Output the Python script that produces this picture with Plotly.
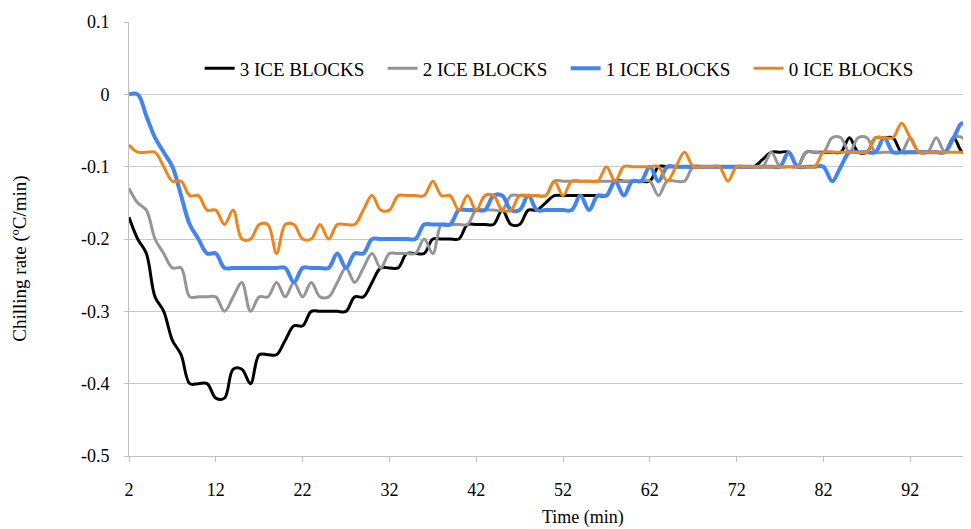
import plotly.graph_objects as go

minutes = list(range(2, 101))

ice3 = [-0.17, -0.20, -0.22, -0.28, -0.30, -0.34, -0.36, -0.40, -0.40, -0.40,
        -0.42, -0.42, -0.38, -0.38, -0.40, -0.36, -0.36, -0.36, -0.34, -0.32,
        -0.32, -0.30, -0.30, -0.30, -0.30, -0.30, -0.28, -0.28, -0.26, -0.24,
        -0.24, -0.24, -0.22, -0.22, -0.22, -0.20, -0.20, -0.20, -0.20, -0.18,
        -0.18, -0.18, -0.18, -0.16, -0.18, -0.18, -0.16, -0.16, -0.15, -0.14,
        -0.14, -0.14, -0.14, -0.14, -0.14, -0.14, -0.12, -0.12, -0.12, -0.12,
        -0.12, -0.10, -0.10, -0.10, -0.10, -0.10, -0.10, -0.10, -0.10, -0.10,
        -0.10, -0.10, -0.10, -0.09, -0.08, -0.08, -0.08, -0.10, -0.08, -0.08,
        -0.08, -0.08, -0.08, -0.06, -0.08, -0.08, -0.06, -0.06, -0.06, -0.08,
        -0.08, -0.08, -0.08, -0.08, -0.08, -0.06, -0.08, -0.08, -0.06]

ice2 = [-0.13, -0.15, -0.16, -0.20, -0.22, -0.24, -0.24, -0.28, -0.28, -0.28,
        -0.28, -0.30, -0.28, -0.26, -0.30, -0.28, -0.28, -0.26, -0.28, -0.26,
        -0.28, -0.26, -0.28, -0.28, -0.26, -0.24, -0.26, -0.24, -0.22, -0.24,
        -0.22, -0.22, -0.22, -0.22, -0.20, -0.22, -0.18, -0.18, -0.18, -0.18,
        -0.16, -0.16, -0.16, -0.16, -0.14, -0.14, -0.14, -0.14, -0.14, -0.12,
        -0.12, -0.12, -0.12, -0.12, -0.12, -0.12, -0.12, -0.12, -0.12, -0.12,
        -0.12, -0.14, -0.12, -0.12, -0.12, -0.10, -0.10, -0.10, -0.10, -0.10,
        -0.10, -0.10, -0.10, -0.10, -0.08, -0.10, -0.10, -0.10, -0.08, -0.08,
        -0.08, -0.06, -0.06, -0.08, -0.06, -0.06, -0.08, -0.08, -0.08, -0.08,
        -0.06, -0.08, -0.08, -0.06, -0.08, -0.06, -0.06, -0.08, -0.08]

ice1 = [0.00, 0.00, -0.03, -0.06, -0.08, -0.10, -0.14, -0.18, -0.20, -0.22,
        -0.22, -0.24, -0.24, -0.24, -0.24, -0.24, -0.24, -0.24, -0.24, -0.26,
        -0.24, -0.24, -0.24, -0.24, -0.22, -0.24, -0.22, -0.22, -0.20, -0.20,
        -0.20, -0.20, -0.20, -0.20, -0.18, -0.18, -0.18, -0.18, -0.16, -0.16,
        -0.16, -0.16, -0.14, -0.14, -0.16, -0.16, -0.14, -0.16, -0.16, -0.16,
        -0.16, -0.16, -0.14, -0.16, -0.14, -0.14, -0.12, -0.14, -0.12, -0.12,
        -0.10, -0.12, -0.10, -0.10, -0.10, -0.10, -0.10, -0.10, -0.10, -0.10,
        -0.10, -0.10, -0.10, -0.10, -0.10, -0.10, -0.08, -0.10, -0.10, -0.10,
        -0.10, -0.12, -0.10, -0.08, -0.08, -0.08, -0.08, -0.06, -0.08, -0.08,
        -0.08, -0.08, -0.08, -0.08, -0.08, -0.06, -0.04, -0.06, -0.08]

ice0 = [-0.07, -0.08, -0.08, -0.08, -0.10, -0.12, -0.12, -0.14, -0.14, -0.16,
        -0.16, -0.18, -0.16, -0.20, -0.20, -0.18, -0.18, -0.22, -0.18, -0.18,
        -0.20, -0.20, -0.18, -0.20, -0.18, -0.18, -0.18, -0.16, -0.14, -0.16,
        -0.16, -0.14, -0.14, -0.14, -0.14, -0.12, -0.14, -0.14, -0.16, -0.14,
        -0.16, -0.14, -0.14, -0.16, -0.16, -0.14, -0.14, -0.14, -0.14, -0.12,
        -0.14, -0.12, -0.12, -0.12, -0.12, -0.10, -0.12, -0.10, -0.10, -0.10,
        -0.10, -0.10, -0.12, -0.10, -0.08, -0.10, -0.10, -0.10, -0.10, -0.12,
        -0.10, -0.10, -0.10, -0.10, -0.10, -0.10, -0.10, -0.10, -0.10, -0.10,
        -0.08, -0.08, -0.08, -0.08, -0.08, -0.08, -0.06, -0.06, -0.06, -0.04,
        -0.06, -0.08, -0.08, -0.08, -0.08, -0.08, -0.08, -0.08, -0.08]

series_names = ["3 ICE BLOCKS", "2 ICE BLOCKS", "1 ICE BLOCKS", "0 ICE BLOCKS"]
series_values = [ice3, ice2, ice1, ice0]
series_colors = ["#000000", "#959595", "#4384ee", "#f0841c"]
series_widths = [3, 3, 4, 3]

x_tick_vals = [2, 12, 22, 32, 42, 52, 62, 72, 82, 92]
y_tick_vals = [0.1, 0.0, -0.1, -0.2, -0.3, -0.4, -0.5]
y_tick_text = ["0.1", "0", "-0.1", "-0.2", "-0.3", "-0.4", "-0.5"]

FONT = "Liberation Serif, Times New Roman, serif"

# page body has an 8px margin; figure pixel geometry below is in figure coords
W, H = 963, 521
L, R, T, B = 121.4, 0, 13.6, 73
PW, PH = W - L - R, H - T - B


def px(xf):
    return (xf - L) / PW


def py(yf):
    return (H - B - yf) / PH


fig = go.Figure()
for name, vals, col, w in zip(series_names, series_values, series_colors, series_widths):
    fig.add_trace(go.Scatter(
        x=minutes, y=vals, name=name, mode="lines",
        line=dict(color=col, width=w, shape="spline", smoothing=1.0),
    ))

fig.update_layout(
    width=W, height=H,
    margin=dict(l=L, r=R, t=T, b=B, autoexpand=False),
    paper_bgcolor="white", plot_bgcolor="white",
    font=dict(family=FONT, size=18, color="#000000"),
    showlegend=True,
    legend=dict(
        orientation="h", x=px(192), xanchor="left", y=py(60), yanchor="middle",
        font=dict(family=FONT, size=19, color="#000000"),
        bgcolor="rgba(0,0,0,0)", entrywidth=138, entrywidthmode="pixels",
        tracegroupgap=0,
    ),
    xaxis=dict(
        range=[2, 99], tickmode="array", tickvals=x_tick_vals,
        showgrid=False, zeroline=False,
        showline=True, linecolor="#bfbfbf", linewidth=1,
        ticks="outside", ticklen=5, tickcolor="#bfbfbf",
        ticklabelstandoff=12,
        tickfont=dict(family=FONT, size=18),
    ),
    yaxis=dict(
        range=[-0.5, 0.1], tickmode="array", tickvals=y_tick_vals, ticktext=y_tick_text,
        showgrid=True, gridcolor="#c8c8c8", gridwidth=1, zeroline=False,
        showline=True, linecolor="#bfbfbf", linewidth=1,
        ticks="outside", ticklen=4, tickcolor="#bfbfbf",
        ticklabelstandoff=11,
        tickfont=dict(family=FONT, size=18),
    ),
    annotations=[
        dict(text="Time (min)", xref="paper", yref="paper",
             x=px(575), y=py(510), xanchor="center", yanchor="middle",
             showarrow=False, font=dict(family=FONT, size=18)),
        dict(text="Chilling rate (ºC/min)", xref="paper", yref="paper",
             x=px(13), y=py(251), xanchor="center", yanchor="middle",
             textangle=-90, showarrow=False, font=dict(family=FONT, size=19)),
    ],
)

fig.write_html("out.html")
